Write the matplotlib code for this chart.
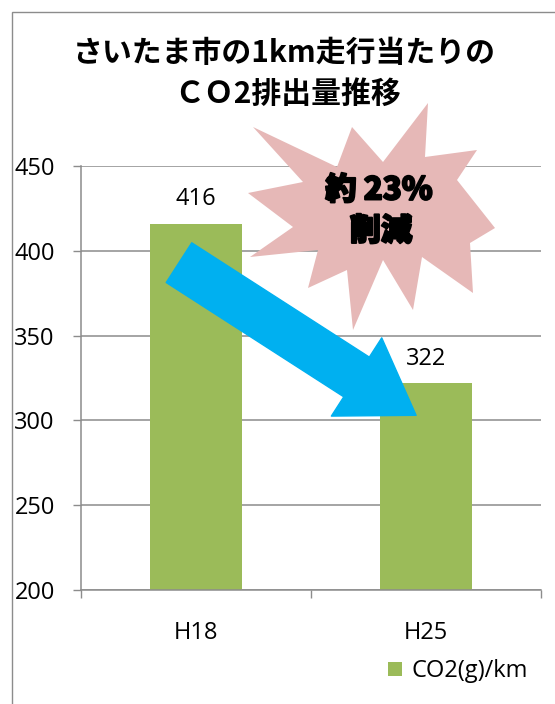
import matplotlib
matplotlib.use('Agg')
import matplotlib.pyplot as plt
import matplotlib.patches as mpatches
import matplotlib.patheffects as pe
import numpy as np

# === Data ===
years = ['H18', 'H25']
co2_per_km = [416, 322]
series_name = 'CO2(g)/km'
title_lines = ['さいたま市の1km走行当たりの', 'ＣＯ2排出量推移']
callout_lines = ['約 23%', '削減']
y_ticks = [200, 250, 300, 350, 400, 450]

# === Style ===
W, H = 555, 704
bar_color = '#9BBB59'
arrow_color = '#00B0F0'
star_color = '#E6B8B7'
grid_color = '#8C8C8C'

plt.rcParams['font.family'] = ['Open Sans', 'Noto Sans CJK JP', 'DejaVu Sans']


def fx(px):
    return px / W


def fy(py):
    return 1 - py / H


fig = plt.figure(figsize=(W / 100, H / 100), dpi=100)

# outer frame of the chart area (cut off at right/bottom in the reference)
frame = mpatches.Rectangle((fx(12), fy(760)), 1.2, fy(12) - fy(760),
                           transform=fig.transFigure, fill=False,
                           edgecolor=grid_color, linewidth=1.0, clip_on=False)
fig.patches.append(frame)

# title
cjk = ['Noto Sans CJK JP', 'DejaVu Sans']
fig.text(fx(284), fy(53), title_lines[0], ha='center', va='center',
         fontsize=21.5, fontweight='bold', family=cjk)
fig.text(fx(288), fy(94), title_lines[1], ha='center', va='center',
         fontsize=21.5, fontweight='bold', family=cjk)

ax = fig.add_axes([fx(81), fy(590), fx(541) - fx(81), fy(166) - fy(590)])

x = np.arange(len(years))
bars = ax.bar(x, co2_per_km, width=0.4, color=bar_color, zorder=2, label=series_name)

ax.set_xlim(-0.5, len(years) - 0.5)
ax.set_ylim(200, 450)
ax.set_yticks(y_ticks)
ax.set_yticklabels([str(v) for v in y_ticks])
ax.set_xticks(x)
ax.set_xticklabels(years)
ax.set_xticks(np.arange(len(years) + 1) - 0.5, minor=True)

ax.tick_params(axis='y', direction='out', length=5.8, width=1, color=grid_color,
               pad=13, labelsize=17)
ax.tick_params(axis='x', which='major', length=0, pad=22, labelsize=17)
ax.tick_params(axis='x', which='minor', direction='out', length=5.8, width=1,
               color=grid_color)

ax.yaxis.grid(True, color=grid_color, linewidth=1.1, zorder=0)
ax.set_axisbelow(True)
for side in ['top', 'right']:
    ax.spines[side].set_visible(False)
for side in ['left', 'bottom']:
    ax.spines[side].set_color(grid_color)
    ax.spines[side].set_linewidth(1.1)

# value labels
for xi, v in zip(x, co2_per_km):
    ax.annotate(str(v), xy=(xi, v), xytext=(0, 17.5), textcoords='offset points',
                ha='center', va='center', fontsize=17, zorder=6)

# starburst callout (pixel offsets around its centre)
star_cx, star_cy = 372, 215
star_shape = [(-119, -88), (-35, -48), (-20, -88), (11, -53), (56, -112), (53, -58),
              (105, -65), (85, -35), (123, 13), (98, 28), (101, 78), (50, 42),
              (41, 95), (11, 45), (-19, 115), (-25, 55), (-64, 73), (-54, 35),
              (-122, 42), (-79, 12), (-124, -22), (-69, -33)]
star_pts = [(fx(star_cx + dx), fy(star_cy + dy)) for dx, dy in star_shape]
star = mpatches.Polygon(star_pts, closed=True, transform=fig.transFigure,
                        facecolor=star_color, edgecolor='none', zorder=3, clip_on=False)
ax.add_artist(star)

stroke = [pe.withStroke(linewidth=1.4, foreground='black')]
fig.text(fx(379), fy(190), callout_lines[0], ha='center', va='center', fontsize=22.5,
         fontweight='black', family=cjk, path_effects=stroke, zorder=7)
fig.text(fx(381), fy(231), callout_lines[1], ha='center', va='center', fontsize=22.5,
         fontweight='black', family=cjk, path_effects=stroke, zorder=7)

# big downward arrow from first bar to second bar
ax.annotate('', xy=(0.957, 303), xytext=(-0.074, 393),
            arrowprops=dict(arrowstyle='simple,head_width=6.7,head_length=5.1,tail_width=3.4',
                            color=arrow_color, shrinkA=0, shrinkB=0, mutation_scale=10),
            zorder=5)

# legend
leg = ax.legend(loc='center left', bbox_to_anchor=(fx(388), fy(671)),
                bbox_transform=fig.transFigure, frameon=False, fontsize=17,
                handlelength=0.6, handleheight=0.55, handletextpad=0.4,
                borderpad=0, borderaxespad=0)

fig.savefig('out.png', dpi=100)
